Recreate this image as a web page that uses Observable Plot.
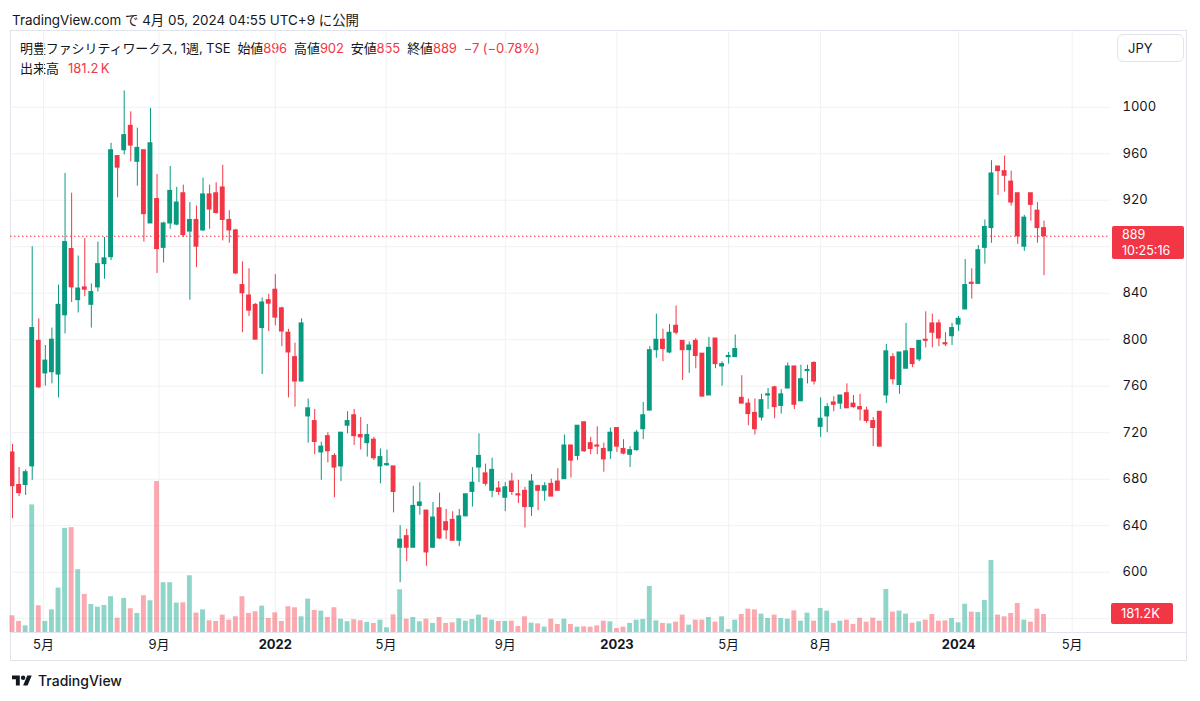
<!DOCTYPE html>
<html>
<head>
<meta charset="utf-8">
<script src="https://cdn.jsdelivr.net/npm/d3@7"></script>
<script src="https://cdn.jsdelivr.net/npm/@observablehq/plot@0.6"></script>
<style>
  body { margin: 0; background: #fff; }
  #wrap { position: relative; width: 1200px; height: 701px; overflow: hidden; background: #fff;
          font-family: Inter, "Noto Sans CJK JP", sans-serif; color: #131722; }
  .abs { position: absolute; }
  .layer { position: absolute; left: 0; top: 0; }
  #panel { left: 10px; top: 30px; width: 1177px; height: 631px; border: 1px solid #e0e3eb; box-sizing: border-box; }
  #sep { left: 10px; top: 632px; width: 1177px; height: 1px; background: #e0e3eb; }
  #title { left: 12px; top: 9px; font-size: 13.4px; white-space: nowrap; }
  #leg1 { left: 20px; top: 38px; font-size: 13px; white-space: nowrap; letter-spacing: -0.1px; }
  #leg2 { left: 20px; top: 58px; font-size: 13px; white-space: nowrap; }
  .red { color: #f23645; }
  .gap { margin-left: 7px; }
  #jpy { left: 1117px; top: 34px; width: 67px; height: 28px; border: 1px solid #e0e3eb; border-radius: 6px;
         box-sizing: border-box; font-size: 13px; line-height: 26px; padding-left: 10px; background:#fff; }
  #plabel { left: 1112px; width: 72px; height: 33px; background: #f23645; color: #fff; border-radius: 2px;
            font-size: 12.5px; padding: 1px 0 0 10px; box-sizing: border-box; }
  #plabel div { height: 16px; line-height: 16px; overflow: hidden; }
  #vlabel { left: 1111px; width: 62px; height: 21px; background: #f23645; color: #fff; border-radius: 2px;
            font-size: 13px; line-height: 21px; padding-left: 10px; box-sizing: border-box; }
  #logo { left: 12px; top: 672px; font-size: 14px; font-weight: 500; display: flex; align-items: center; gap: 6px; }
</style>
</head>
<body>
<div id="wrap">
  <div id="panel" class="abs"></div>
  <div id="title" class="abs">TradingView.com で 4月 05, 2024 04:55 UTC+9 に公開</div>
  <div id="leg1" class="abs"></div>
  <div id="leg2" class="abs"></div>
  <div id="jpy" class="abs">JPY</div>
  <div id="sep" class="abs"></div>
  <div id="logo" class="abs"><svg width="20" height="16" viewBox="0 0 36 28"><path fill="#131722" d="M14 22H7V11H0V4h14v18zM28 22h-8l7.5-18h8L28 22z"/><circle fill="#131722" cx="20" cy="8" r="4"/></svg><span>TradingView</span></div>
</div>
<script>
// ---- data (weekly bars, 明豊ファシリティワークス, TSE) ----
const symbolName = "明豊ファシリティワークス";
const intervalLabel = "1週";
const exchange = "TSE";
const firstWeek = "2021-03-29";
const lastWeek = "2024-04-01";
const countdown = "10:25:16";

const opens = [703,675,675,691,799,771,772,770,821,878,834,845,830,845,865,871,958,963,984,953,
  963,900,921,879,900,899,926,893,903,894,925,926,931,903,894,847,838,830,810,834,
  843,827,806,785,764,734,730,703,717,700,691,726,735,718,711,714,691,692,691,621,
  631,621,657,653,621,655,643,645,627,648,669,690,685,670,672,664,678,667,670,656,
  674,670,676,678,680,709,700,729,711,709,706,704,724,706,701,705,723,739,791,800,
  789,812,799,791,799,788,752,801,777,785,785,750,745,737,733,752,759,743,758,777,
  747,773,780,725,734,746,745,754,745,742,739,730,738,752,785,761,775,792,783,800,
  814,814,797,803,813,826,849,848,879,896,949,945,936,926,880,926,911,896];
const highs = [710,690,688,880,818,795,810,847,943,926,872,887,848,884,888,969,958,1014,996,982,
  963,999,942,901,949,931,933,918,915,939,933,935,950,911,895,867,861,831,836,839,
  856,828,809,797,818,749,740,712,720,702,720,738,740,733,727,716,706,705,691,640,
  637,674,677,653,660,668,654,652,654,667,690,719,693,698,678,677,685,679,673,684,
  675,677,680,689,718,709,726,729,716,725,711,724,724,714,708,722,746,794,822,809,
  813,829,799,798,801,788,802,801,781,789,804,769,749,749,753,758,760,757,780,777,
  778,778,781,750,745,751,752,762,752,753,742,733,738,796,788,789,814,792,799,824,
  822,817,806,814,820,869,861,881,903,954,949,958,945,926,907,926,918,902];
const lows = [646,665,666,679,758,760,762,750,805,832,823,837,810,841,852,868,922,959,953,932,
  884,900,857,866,895,898,888,834,862,893,895,908,885,883,856,806,820,800,770,807,
  812,794,750,742,764,711,701,679,694,664,678,719,709,705,699,696,676,691,651,591,
  609,621,649,605,621,628,628,627,622,648,656,677,674,664,666,652,666,659,638,648,
  653,661,665,670,680,681,696,703,701,701,686,697,703,701,690,704,714,739,784,781,
  788,804,765,771,775,751,752,775,760,779,785,745,726,718,730,740,732,736,758,740,
  747,762,761,716,720,738,740,741,741,730,728,708,708,745,761,753,775,776,781,793,
  793,794,794,795,807,826,835,848,865,883,924,927,915,882,876,902,883,855];
const closes = [674,668,686,810,759,782,800,830,884,845,844,843,841,865,870,963,948,976,967,965,
  908,969,878,900,928,918,890,903,880,925,912,909,903,894,857,840,825,800,832,831,
  819,807,789,764,814,741,712,708,704,690,720,730,717,716,718,698,699,693,669,628,
  621,657,660,617,647,629,636,627,648,667,677,700,676,688,669,673,669,666,656,678,
  670,674,665,670,709,696,726,704,706,708,697,720,708,702,705,720,735,791,800,792,
  806,806,791,795,786,751,793,779,779,786,792,745,736,723,748,753,742,753,777,744,
  766,774,764,732,742,744,752,741,742,740,730,724,708,790,766,789,790,779,799,799,
  806,801,796,810,818,847,848,877,897,943,945,941,918,889,905,916,896,889];
// volume in thousands of shares
const volumes = [168,111,67,1284,269,111,228,447,1048,1055,632,383,282,255,272,360,144,343,239,192,
  370,319,1519,501,501,296,299,571,195,228,118,111,175,124,158,360,192,208,265,141,
  198,111,259,249,158,336,222,215,151,249,134,108,128,118,101,91,124,47,178,430,
  134,151,108,134,91,151,91,97,138,114,131,175,148,124,111,111,114,60,158,94,
  87,54,134,81,134,81,54,57,54,67,114,107,40,54,91,124,131,463,117,91,
  87,104,175,74,124,124,151,104,158,30,124,181,235,228,185,141,175,141,134,218,
  114,195,114,242,215,91,114,124,81,144,104,144,114,433,205,215,185,94,107,124,
  181,114,117,141,97,285,205,201,322,725,175,158,191,292,124,104,235,181.2];

// 880 is hidden behind the current-price label, as in the reference
const priceTicks = [600,640,680,720,760,800,840,920,960,1000];
const gridPrices = [560,600,640,680,720,760,800,840,880,920,960,1000];
const xTickDates = ["2021-05-01","2021-09-01","2022-01-03","2022-05-01","2022-09-05","2023-01-02","2023-05-01","2023-08-07","2024-01-01","2024-05-01"];
const xTickLabels = ["5月","9月","2022","5月","9月","2023","5月","8月","2024","5月"];

// ---- build table ----
const weeks = d3.utcMonday.range(new Date(firstWeek + "T00:00:00Z"), d3.utcDay.offset(new Date(lastWeek + "T00:00:00Z"), 1));
const bars = weeks.map((date, i) => ({
  date, open: opens[i], high: highs[i], low: lows[i], close: closes[i], volume: volumes[i],
  up: closes[i] >= opens[i]
}));
const xTicks = xTickDates.map((d, i) => ({date: new Date(d + "T00:00:00Z"), label: xTickLabels[i], year: /^\d{4}$/.test(xTickLabels[i])}));

const UP = "#089981", DOWN = "#f23645";
const VUP = "#22ab94", VDOWN = "#f7525f";
const halfW = 2.6 * 864e5;
const left = d => new Date(+d.date - halfW);
const right = d => new Date(+d.date + halfW);

const last = bars[bars.length - 1];
const prev = bars[bars.length - 2];

const xScale = {type: "utc", domain: [new Date("2021-03-26T21:00:00Z"), new Date("2024-06-10T20:00:00Z")], axis: null};
const frame = {width: 1200, height: 701, marginLeft: 10, marginRight: 90};
const font = {background: "transparent", overflow: "visible", fontFamily: 'Inter, "Noto Sans CJK JP", sans-serif', fontSize: "13px", color: "#131722"};
const priceY = {domain: [548.1, 1066], axis: null};

// layer 1: grid + axes
const base = Plot.plot({
  ...frame, marginTop: 30, marginBottom: 69,
  x: xScale, y: priceY, style: font,
  marks: [
    Plot.ruleY(gridPrices, {stroke: "#eff1f4"}),
    Plot.ruleX(xTicks, {x: "date", stroke: "#eff1f4"}),
    Plot.axisY(priceTicks, {anchor: "right", tickSize: 0, tickPadding: 12, fontSize: 13, tickFormat: d => String(d), fill: "#131722"}),
    Plot.text(xTicks.filter(d => !d.year), {x: "date", text: "label", frameAnchor: "bottom", dy: 16, fontSize: 13, fill: "#131722"}),
    Plot.text(xTicks.filter(d => d.year), {x: "date", text: "label", frameAnchor: "bottom", dy: 16, fontSize: 13, fontWeight: "bold", fill: "#131722"}),
    Plot.ruleY([last.close], {stroke: DOWN, strokeDasharray: "1.5,2.5"})
  ]
});
base.classList.add("layer");

// layer 2: volume
const vol = Plot.plot({
  ...frame, marginTop: 473, marginBottom: 69,
  x: xScale, y: {domain: [0, 1600], axis: null}, style: font,
  marks: [
    Plot.rect(bars.filter(d => d.up), {x1: left, x2: right, y1: 0, y2: "volume", fill: VUP, fillOpacity: 0.5}),
    Plot.rect(bars.filter(d => !d.up), {x1: left, x2: right, y1: 0, y2: "volume", fill: VDOWN, fillOpacity: 0.5})
  ]
});
vol.classList.add("layer");

// layer 3: candles
const candles = Plot.plot({
  ...frame, marginTop: 30, marginBottom: 69,
  x: xScale, y: priceY, style: font,
  marks: [
    Plot.ruleX(bars.filter(d => d.up), {x: "date", y1: "low", y2: "high", stroke: UP, strokeWidth: 1, clip: true}),
    Plot.ruleX(bars.filter(d => !d.up), {x: "date", y1: "low", y2: "high", stroke: DOWN, strokeWidth: 1, clip: true}),
    Plot.rect(bars.filter(d => d.up), {x1: left, x2: right, y1: "open", y2: "close", fill: UP, insetTop: -0.5, insetBottom: -0.5, clip: true}),
    Plot.rect(bars.filter(d => !d.up), {x1: left, x2: right, y1: "open", y2: "close", fill: DOWN, insetTop: -0.5, insetBottom: -0.5, clip: true})
  ]
});
candles.classList.add("layer");

const wrap = document.getElementById("wrap");
const sep = document.getElementById("sep");
wrap.insertBefore(base, sep);
wrap.insertBefore(vol, sep);
wrap.insertBefore(candles, sep);

// price & volume labels positioned through the plot scales
const ys = base.scale("y");
const vs = vol.scale("y");
const pl = document.createElement("div");
pl.id = "plabel"; pl.className = "abs";
pl.style.top = (ys.apply(last.close) - 9.5) + "px";
const l1 = document.createElement("div"); l1.textContent = String(last.close);
const l2 = document.createElement("div"); l2.textContent = countdown;
pl.appendChild(l1); pl.appendChild(l2);
wrap.appendChild(pl);
const vl = document.createElement("div");
vl.id = "vlabel"; vl.className = "abs";
vl.style.top = (vs.apply(last.volume) - 10.5) + "px";
vl.textContent = `${d3.format(".1f")(last.volume)}K`;
wrap.appendChild(vl);

// legend text
const chg = last.close - prev.close;
const pct = chg / prev.close * 100;
const m = v => String(v).replace("-", "−");
document.getElementById("leg1").innerHTML =
  `${symbolName}, ${intervalLabel}, ${exchange}` +
  `<span class="gap">始値</span><span class="red">${last.open}</span>` +
  `<span class="gap">高値</span><span class="red">${last.high}</span>` +
  `<span class="gap">安値</span><span class="red">${last.low}</span>` +
  `<span class="gap">終値</span><span class="red">${last.close}</span>` +
  `<span class="gap red">${m(chg)} (${m(pct.toFixed(2))}%)</span>`;
document.getElementById("leg2").innerHTML =
  `出来高<span class="red" style="margin-left:9px">${d3.format(".1f")(last.volume)}\u2009K</span>`;
</script>
</body>
</html>
